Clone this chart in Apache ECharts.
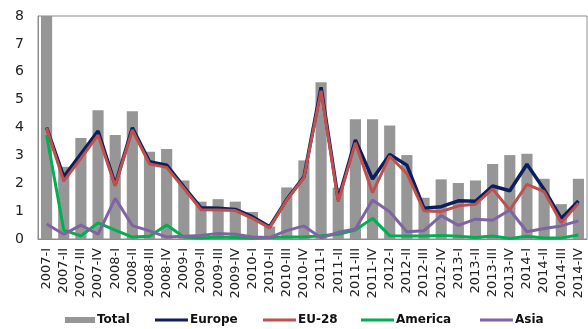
<!DOCTYPE html>
<html>
<head>
<meta charset="utf-8">
<script src="https://cdn.jsdelivr.net/npm/echarts@6/dist/echarts.min.js"></script>
<style>html,body{margin:0;padding:0;background:#fff}#c{width:588px;height:329px}</style>
</head>
<body>
<div id="c"></div>
<script>
const categories = ["2007-I","2007-II","2007-III","2007-IV","2008-I","2008-II","2008-III","2008-IV",
"2009-I","2009-II","2009-III","2009-IV","2010-I","2010-II","2010-III","2010-IV",
"2011-I","2011-II","2011-III","2011-IV","2012-I","2012-II","2012-III","2012-IV",
"2013-I","2013-II","2013-III","2013-IV","2014-I","2014-II","2014-III","2014-IV"];
const total   = [8.0,2.59,3.62,4.62,3.73,4.58,3.13,3.23,2.10,1.34,1.43,1.34,0.97,0.45,1.85,2.82,5.62,1.84,4.30,4.30,4.07,3.01,1.48,2.14,2.01,2.10,2.69,3.01,3.06,2.16,1.25,2.16];
const europe  = [4.00,2.23,3.05,3.87,1.95,3.99,2.77,2.65,1.87,1.12,1.10,1.06,0.80,0.44,1.42,2.23,5.44,1.42,3.55,2.15,3.03,2.65,1.10,1.16,1.37,1.35,1.90,1.73,2.68,1.78,0.74,1.36];
const eu28    = [3.98,2.08,2.89,3.73,1.90,3.91,2.69,2.57,1.82,1.05,1.04,1.02,0.74,0.40,1.40,2.20,5.32,1.34,3.45,1.66,2.97,2.35,1.01,0.98,1.19,1.25,1.80,1.04,1.96,1.70,0.58,1.28];
const america = [3.73,0.32,0.11,0.58,0.32,0.07,0.10,0.50,0.07,0.04,0.07,0.05,0.03,0.05,0.07,0.07,0.12,0.17,0.32,0.74,0.12,0.11,0.11,0.13,0.10,0.05,0.11,0.02,0.10,0.04,0.04,0.14];
const asia    = [0.54,0.17,0.50,0.17,1.46,0.48,0.29,0.07,0.10,0.13,0.20,0.17,0.07,0.05,0.30,0.47,0.04,0.24,0.36,1.40,0.98,0.26,0.30,0.84,0.49,0.71,0.67,1.04,0.26,0.38,0.47,0.65];
const yTicks = [0,1,2,3,4,5,6,7,8];
const legendNames = ['Total','Europe','EU-28','America','Asia'];

const FONT = "DejaVu Sans";
const chart = echarts.init(document.getElementById('c'), null, {renderer:'canvas'});
const lineS = (name, data, color, w) => ({
  name, type:'line', data, symbol:'none', smooth:false,
  lineStyle:{color, width:w}, itemStyle:{color}, z:3
});
const legendLeft = [65, 155, 263, 361, 480];
const legends = legendNames.map((n, i) => ({
  left: legendLeft[i], top: 314, padding: 0,
  icon: 'rect', itemWidth: i === 0 ? 30 : 33, itemHeight: i === 0 ? 6 : 3,
  textStyle: {fontSize: 12, fontWeight: 'bold', color: '#111', fontFamily: FONT, padding: [0,0,0,-3]},
  data: [n]
}));
chart.setOption({
  animation:false,
  textStyle:{fontFamily:FONT},
  grid:{left:38, right:1, top:16, bottom:90, show:true, borderColor:'#8c8c8c', borderWidth:1},
  xAxis:{
    type:'category', data:categories, boundaryGap:true,
    axisLine:{show:true, lineStyle:{color:'#8c8c8c', width:1}},
    axisTick:{show:false},
    axisLabel:{interval:0, rotate:90, fontSize:13, color:'#222', margin:9, fontFamily:FONT}
  },
  yAxis:{
    type:'value', min:yTicks[0], max:yTicks[yTicks.length-1], interval:1,
    axisLine:{show:true, lineStyle:{color:'#8c8c8c'}},
    axisTick:{show:false},
    splitLine:{show:false},
    axisLabel:{fontSize:14, color:'#222', margin:14, fontFamily:FONT}
  },
  legend: legends,
  series:[
    {name:'Total', type:'bar', data:total, barCategoryGap:'35%', itemStyle:{color:'#969696'}, z:2},
    lineS('Europe', europe, '#0b1f5e', 3.5),
    lineS('EU-28', eu28, '#c0504d', 3),
    lineS('America', america, '#00b050', 3),
    lineS('Asia', asia, '#8064a2', 3)
  ]
});
</script>
</body>
</html>
